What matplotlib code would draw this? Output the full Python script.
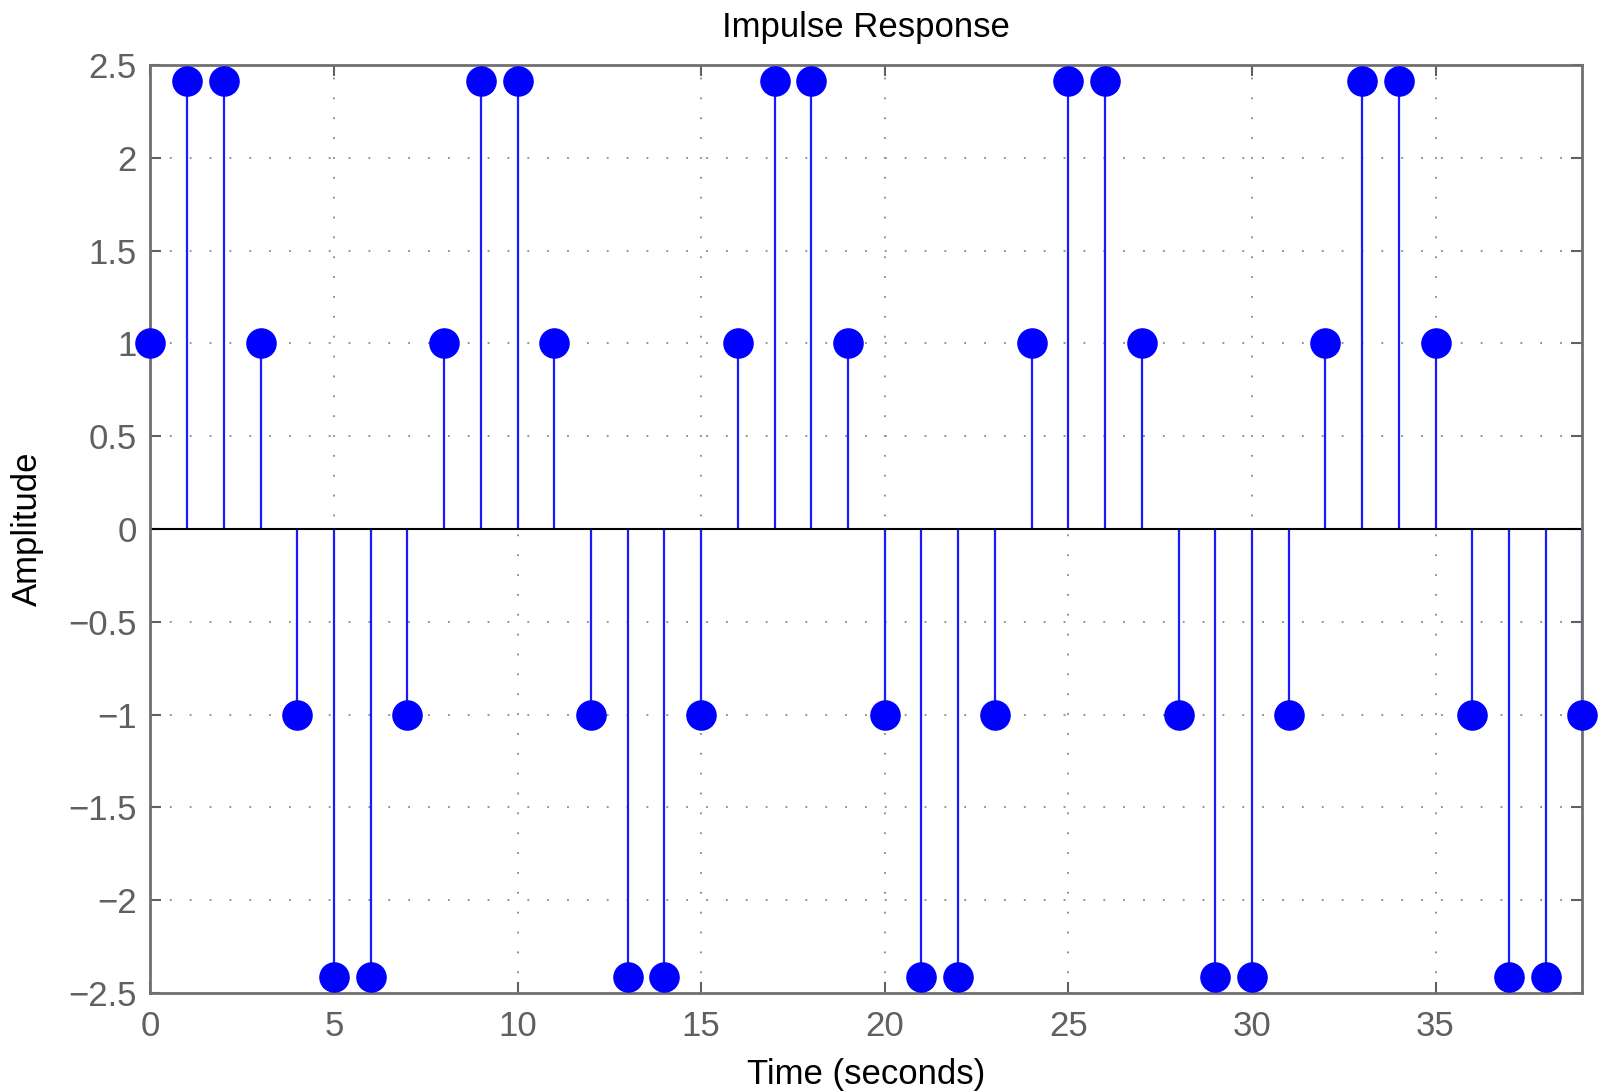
import numpy as np
import matplotlib.pyplot as plt

plt.rcParams['font.family'] = ['Liberation Sans', 'DejaVu Sans']

# sample index (seconds) and impulse response amplitude
t = list(range(40))
amplitude = [1, 2.414, 2.414, 1, -1, -2.414, -2.414, -1] * 5

fig = plt.figure(figsize=(16, 10.91), dpi=100)
ax = fig.add_axes([0.094, 0.0898, 0.895, 0.8506])

markerline, stemlines, baseline = ax.stem(t, amplitude, linefmt='-', markerfmt='o', basefmt='-')
plt.setp(stemlines, color='#1a1aff', linewidth=1.6)
plt.setp(markerline, color='#0000ff', markersize=21, clip_on=False, zorder=5)
plt.setp(baseline, color='black', linewidth=1.5)

ax.set_xlim(0, 39)
ax.set_ylim(-2.5, 2.5)
ax.set_xticks([0, 5, 10, 15, 20, 25, 30, 35])
ax.set_yticks(np.arange(-2.5, 2.51, 0.5))
ax.set_yticklabels(['\u22122.5', '\u22122', '\u22121.5', '\u22121', '\u22120.5',
                    '0', '0.5', '1', '1.5', '2', '2.5'])

ax.grid(True, linestyle=(0, (1, 10)), color='#888888', linewidth=1.3)
ax.set_axisbelow(True)
ax.tick_params(direction='in', top=True, right=True, length=8, width=1.5,
               colors='#606060', labelsize=25)
ax.tick_params(axis='x', pad=12)
ax.tick_params(axis='y', pad=10)
for sp in ax.spines.values():
    sp.set_color('#707070')
    sp.set_linewidth(2)

ax.set_title('Impulse Response', fontsize=25, pad=20)
ax.set_xlabel('Time (seconds)', fontsize=25, labelpad=11)
ax.set_ylabel('Amplitude', fontsize=25, labelpad=17)

fig.savefig('out.png', dpi=100)
